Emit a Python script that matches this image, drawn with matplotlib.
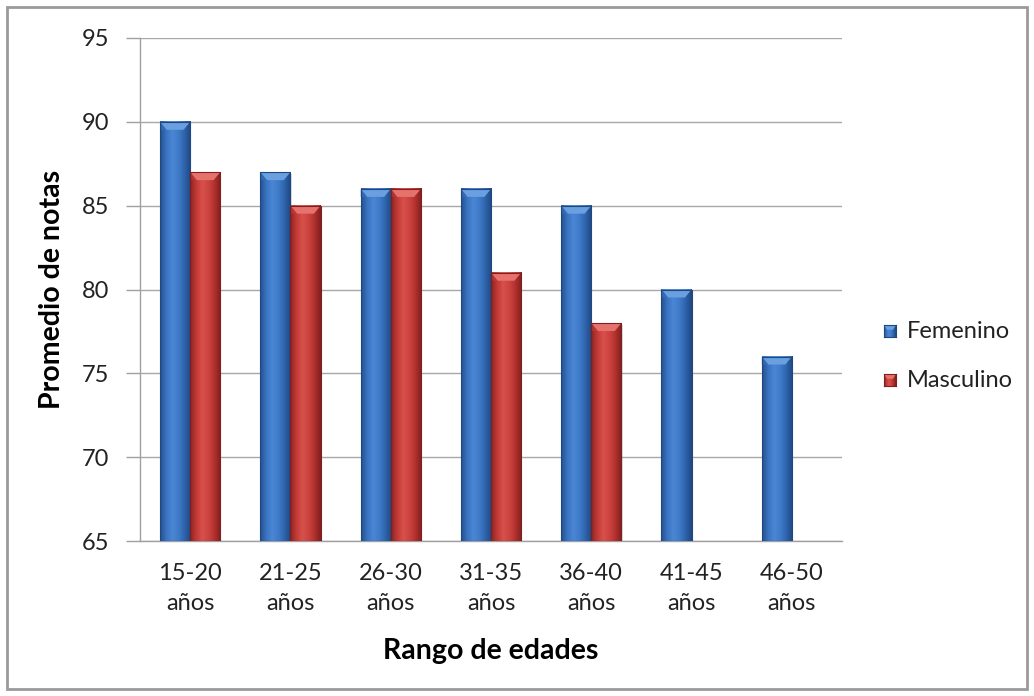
import numpy as np
import matplotlib
matplotlib.use("Agg")
import matplotlib.pyplot as plt
from matplotlib.colors import LinearSegmentedColormap
from matplotlib.patches import Polygon, Rectangle

# Data
categories = ["15-20\naños", "21-25\naños", "26-30\naños", "31-35\naños",
              "36-40\naños", "41-45\naños", "46-50\naños"]
femenino = [90, 87, 86, 86, 85, 80, 76]
masculino = [87, 85, 86, 81, 78, None, None]
series_names = ["Femenino", "Masculino"]
y_ticks = [65, 70, 75, 80, 85, 90, 95]

plt.rcParams["font.family"] = ["Lato", "DejaVu Sans"]

W, H = 1034, 696
fig = plt.figure(figsize=(W / 100, H / 100), dpi=100)
ax = fig.add_axes([140 / W, 1 - 541 / H, 702 / W, 503 / H])

# outer frame of the chart area
fig.patches.append(Rectangle((7 / W, 7 / H), 1 - 14 / W, 1 - 14 / H,
                             transform=fig.transFigure, fill=False,
                             edgecolor="#9a9a9a", linewidth=2))

palettes = {
    "Femenino": ["#24508c", "#3a74c2", "#4a86d4", "#3f7bc9", "#2f63ab", "#1f4882"],
    "Masculino": ["#8c2422", "#c23a36", "#d8504c", "#cc4440", "#b0302d", "#80201e"],
}
bevel = {"Femenino": "#6a9fe0", "Masculino": "#e6726e"}
bevel_side = {"Femenino": "#3a70ba", "Masculino": "#c03c38"}

width = 0.3
base = 65
px_per_unit = 503 / 30.0


def gradient_bar(x0, w, v, name):
    cmap = LinearSegmentedColormap.from_list(name, palettes[name])
    grad = np.linspace(0, 1, 64).reshape(1, -1)
    # soft shadow to the right
    ax.add_patch(Rectangle((x0 + 0.012, base), w, v - base - 0.1,
                           facecolor="#000000", alpha=0.12, zorder=2, linewidth=0))
    ax.imshow(grad, cmap=cmap, extent=(x0, x0 + w, base, v), aspect="auto",
              zorder=3, interpolation="bilinear")
    h = 8 / px_per_unit
    # top bevel
    ax.add_patch(Polygon([(x0, v), (x0 + w, v), (x0 + w * 0.78, v - h),
                          (x0 + w * 0.22, v - h)], closed=True,
                         facecolor=bevel[name], edgecolor="none", zorder=4))
    ax.add_patch(Polygon([(x0, v), (x0 + w * 0.22, v - h), (x0, v - h)], closed=True,
                         facecolor=bevel_side[name], edgecolor="none", zorder=4, alpha=0.6))
    ax.add_patch(Rectangle((x0, base), w, v - base, fill=False,
                           edgecolor=palettes[name][-1], linewidth=0.8, zorder=5))


x = np.arange(len(categories))
for i, v in enumerate(femenino):
    if v is not None:
        gradient_bar(x[i] - width, width, v, "Femenino")
for i, v in enumerate(masculino):
    if v is not None:
        gradient_bar(x[i], width, v, "Masculino")

ax.set_xlim(-0.5, len(categories) - 0.5)
ax.set_ylim(65, 95)
ax.set_yticks(y_ticks)
ax.set_xticks(x)
ax.set_xticklabels(categories, fontsize=17, color="#222222", linespacing=1.5)
ax.tick_params(axis="y", labelsize=17, length=10, width=1, color="#a0a0a0",
               labelcolor="#222222", pad=12)
ax.tick_params(axis="x", length=0, pad=16)

ax.grid(axis="y", color="#a8a8a8", linewidth=1, zorder=0)
ax.set_axisbelow(True)
for s in ["top", "right"]:
    ax.spines[s].set_visible(False)
for s in ["left", "bottom"]:
    ax.spines[s].set_color("#a0a0a0")
    ax.spines[s].set_linewidth(1)

ax.set_ylabel("Promedio de notas", fontsize=20.5, fontweight="bold")
ax.yaxis.set_label_coords(-88 / 702, 0.5)
ax.set_xlabel("Rango de edades", fontsize=20.5, fontweight="bold")
ax.xaxis.set_label_coords(0.5, -(651 - 541) / 503)
ax.xaxis.label.set_va("center")
ax.yaxis.label.set_va("center")

# legend: gradient squares with labels
sq = 12
rows_y = [331, 380]
for name, yc in zip(series_names, rows_y):
    cmap = LinearSegmentedColormap.from_list(name + "_leg", palettes[name])
    lax = fig.add_axes([884 / W, 1 - (yc + sq / 2) / H, sq / W, sq / H])
    lax.imshow(np.linspace(0, 1, 32).reshape(1, -1), cmap=cmap, aspect="auto",
               extent=(0, 1, 0, 1), interpolation="bilinear")
    lax.add_patch(Polygon([(0, 1), (1, 1), (0.75, 0.6), (0.25, 0.6)], closed=True,
                          facecolor=bevel[name], edgecolor="none"))
    lax.set_xlim(0, 1)
    lax.set_ylim(0, 1)
    lax.set_xticks([])
    lax.set_yticks([])
    for s in lax.spines.values():
        s.set_color(palettes[name][-1])
        s.set_linewidth(0.8)
    fig.text(907 / W, 1 - yc / H, name, fontsize=17, color="#222222",
             ha="left", va="center")

fig.savefig("out.png", dpi=100)
